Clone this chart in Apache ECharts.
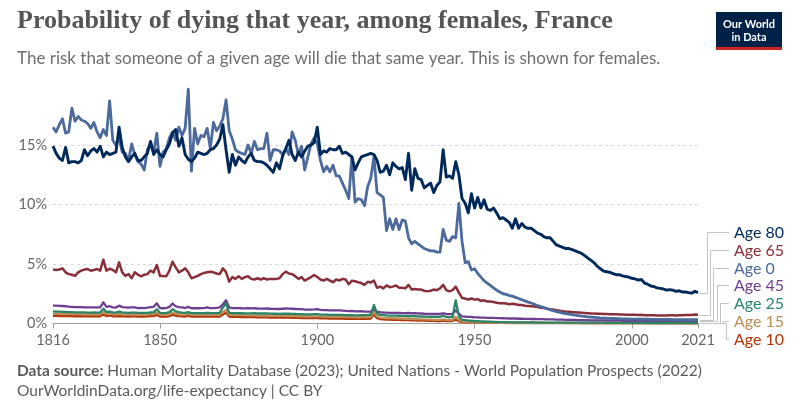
<!DOCTYPE html>
<html><head><meta charset="utf-8">
<script src="https://cdn.jsdelivr.net/npm/echarts@6/dist/echarts.min.js"></script>
<style>html,body{margin:0;padding:0;background:#fff}#c{width:800px;height:418px}</style>
</head><body><div id="c"></div>
<script>
const startYear = 1816;
const endYear = 2021;
const xTickLabels = [1816, 1850, 1900, 1950, 2000, 2021];
const seriesNames = ['Age 80', 'Age 65', 'Age 0', 'Age 45', 'Age 25', 'Age 15', 'Age 10'];
const seriesColors = ['#00295B', '#883039', '#4C6A9C', '#6D3E91', '#2C8465', '#BC8E5A', '#B13507'];

const age80 = [
14.9, 14.3, 13.9, 13.7,
14.8, 13.5, 13.6, 13.6, 13.5, 13.7, 14.6, 14.1, 14.5, 14.7,
14.4, 14.9, 14.0, 14.4, 14.2, 14.3, 14.4, 16.5, 14.8, 14.0,
13.6, 14.0, 14.3, 13.7, 13.7, 14.0, 14.3, 15.3, 14.2, 14.6,
14.2, 14.0, 14.6, 15.1, 16.0, 16.3, 14.9, 15.6, 14.2, 13.8,
13.6, 13.9, 14.4, 14.3, 14.2, 14.3, 14.6, 14.7, 15.0, 15.5,
16.7, 14.6, 12.7, 14.2, 13.3, 14.0, 13.7, 13.5, 14.0, 14.3,
13.7, 13.6, 13.6, 13.5, 13.3, 13.0, 12.7, 13.5, 13.0, 14.1,
14.7, 15.4, 14.2, 13.7, 14.4, 14.0, 14.5, 14.9, 15.0, 15.2,
16.5, 14.2, 14.5, 14.4, 14.7, 14.6, 14.6, 14.9, 14.3, 14.4,
14.2, 14.0, 12.9, 13.5, 14.0, 14.1, 14.2, 14.3, 14.2, 13.7,
12.7, 12.8, 13.3, 12.5, 13.5, 13.2, 13.0, 13.1, 12.1, 14.3,
11.2, 13.0, 12.2, 12.1, 11.4, 11.6, 11.8, 11.0, 11.6, 11.9,
14.6, 12.3, 12.4, 12.2, 13.6, 12.5, 10.5, 10.1, 9.3, 10.9,
9.7, 10.6, 9.7, 10.4, 9.6, 9.5, 9.7, 9.3, 8.8, 8.9,
8.7, 8.5, 8.0, 8.8, 8.0, 8.4, 8.1, 8.0, 8.0, 7.8,
7.6, 7.5, 7.3, 7.2, 7.2, 6.9, 6.6, 6.5, 6.4, 6.3,
6.3, 6.2, 6.1, 6.0, 5.9, 5.7, 5.5, 5.3, 5.1, 4.8,
4.6, 4.4, 4.35, 4.3, 4.2, 4.1, 4.1, 4.0, 3.95, 3.9,
3.8, 3.75, 3.65, 3.7, 3.4, 3.3, 3.15, 3.1, 3.0, 2.95,
2.9, 2.8, 2.85, 2.8, 2.7, 2.75, 2.65, 2.65, 2.6, 2.55,
2.7, 2.6
];

const age65 = [
4.53, 4.5, 4.53, 4.64,
4.3, 4.15, 4.1, 4.0, 4.3, 4.44, 4.53, 4.58, 4.44, 4.5,
4.58, 4.44, 5.36, 4.44, 4.6, 4.5, 4.3, 5.14, 4.3, 4.0,
4.15, 3.8, 4.3, 4.1, 3.97, 4.1, 4.15, 4.44, 4.3, 4.92,
4.0, 4.0, 3.97, 4.44, 5.19, 4.72, 4.3, 4.44, 4.64, 4.3,
3.8, 3.9, 4.0, 4.15, 4.25, 4.3, 4.35, 4.3, 4.2, 4.15,
4.64, 4.3, 3.52, 3.9, 3.75, 3.97, 3.75, 3.9, 3.97, 3.75,
3.7, 3.8, 3.7, 3.8, 3.7, 3.75, 3.75, 3.75, 3.8, 4.15,
4.36, 4.2, 4.15, 3.97, 3.75, 3.9, 3.61, 3.75, 3.9, 4.08,
3.9, 3.7, 3.61, 3.75, 3.61, 3.47, 3.7, 3.61, 3.75, 3.7,
3.3, 3.6, 3.55, 3.47, 3.4, 3.25, 3.5, 3.45, 3.6, 3.0,
3.1, 2.95, 3.2, 3.05, 3.1, 3.2, 3.0, 3.0, 2.95, 3.25,
2.85, 2.9, 2.85, 2.85, 2.75, 2.7, 2.75, 2.85, 2.8, 2.95,
3.25, 2.8, 2.7, 2.8, 3.1, 2.6, 2.15, 2.1, 2.0, 2.1,
2.0, 2.05, 1.9, 1.95, 1.85, 1.85, 1.8, 1.75, 1.7, 1.7,
1.68, 1.62, 1.65, 1.62, 1.55, 1.55, 1.5, 1.48, 1.45, 1.42,
1.38, 1.33, 1.3, 1.25, 1.2, 1.17, 1.12, 1.07, 1.03, 1.0,
0.98, 0.96, 0.95, 0.93, 0.91, 0.89, 0.87, 0.85, 0.83, 0.82,
0.81, 0.8, 0.79, 0.78, 0.78, 0.77, 0.76, 0.75, 0.74, 0.74,
0.73, 0.73, 0.72, 0.74, 0.7, 0.7, 0.69, 0.69, 0.68, 0.68,
0.68, 0.68, 0.69, 0.69, 0.68, 0.7, 0.7, 0.71, 0.71, 0.71,
0.75, 0.73
];

const age0 = [
16.5, 16.1, 16.7, 17.2,
16.0, 16.1, 18.1, 17.0, 17.4, 17.1, 17.0, 16.8, 16.4, 16.9,
16.1, 15.6, 16.3, 15.8, 18.7, 15.4, 15.0, 15.6, 14.4, 14.3,
13.7, 15.1, 14.2, 13.6, 13.4, 12.9, 14.6, 15.1, 14.4, 16.0,
13.2, 14.4, 14.7, 15.6, 16.1, 15.4, 16.5, 15.8, 16.4, 19.7,
12.8, 16.4, 15.1, 15.8, 15.7, 16.4, 14.7, 16.9, 16.2, 16.6,
17.2, 18.8, 16.2, 15.5, 14.6, 14.4, 14.3, 14.2, 15.0, 14.3,
15.3, 14.6, 14.7, 14.7, 16.0, 13.7, 14.6, 14.6, 14.5, 14.2,
14.7, 14.2, 16.1, 15.4, 14.2, 14.9, 12.9, 14.0, 15.1, 15.6,
15.1, 13.7, 12.75, 13.2, 12.75, 13.3, 12.4, 12.4, 11.8, 11.2,
10.5, 14.0, 10.2, 10.5, 10.4, 9.9, 11.5, 12.2, 14.0, 11.0,
10.8, 10.6, 7.8, 8.8, 7.9, 8.8, 7.9, 8.7, 8.6, 7.2,
6.7, 6.9, 6.7, 6.5, 6.3, 6.2, 6.1, 6.1, 6.0, 6.0,
7.9, 7.0, 6.9, 7.3, 7.2, 10.1, 6.9, 5.1, 5.2, 4.5,
4.6, 4.2, 3.9, 3.6, 3.4, 3.2, 3.0, 2.8, 2.65, 2.5,
2.45, 2.35, 2.3, 2.2, 2.1, 2.0, 1.9, 1.8, 1.72, 1.62,
1.5, 1.42, 1.35, 1.25, 1.15, 1.08, 1.0, 0.94, 0.88, 0.83,
0.78, 0.74, 0.7, 0.66, 0.62, 0.59, 0.56, 0.54, 0.52, 0.5,
0.47, 0.46, 0.44, 0.43, 0.42, 0.41, 0.4, 0.39, 0.38, 0.38,
0.37, 0.37, 0.36, 0.36, 0.36, 0.36, 0.35, 0.35, 0.35, 0.34,
0.34, 0.34, 0.34, 0.33, 0.33, 0.33, 0.33, 0.33, 0.33, 0.33,
0.33, 0.33
];

const age45 = [
1.5, 1.5, 1.48, 1.47,
1.45, 1.42, 1.4, 1.38, 1.38, 1.37, 1.36, 1.36, 1.35, 1.36,
1.35, 1.36, 1.78, 1.4, 1.45, 1.36, 1.34, 1.5, 1.38, 1.36,
1.33, 1.36, 1.35, 1.3, 1.32, 1.3, 1.33, 1.38, 1.4, 1.7,
1.3, 1.28, 1.3, 1.4, 1.68, 1.45, 1.38, 1.35, 1.3, 1.4,
1.28, 1.3, 1.28, 1.3, 1.3, 1.35, 1.3, 1.3, 1.32, 1.35,
1.6, 1.95, 1.35, 1.3, 1.3, 1.3, 1.28, 1.27, 1.28, 1.27,
1.28, 1.26, 1.25, 1.25, 1.26, 1.24, 1.23, 1.22, 1.22, 1.24,
1.26, 1.25, 1.24, 1.22, 1.2, 1.2, 1.17, 1.16, 1.17, 1.18,
1.2, 1.14, 1.12, 1.12, 1.11, 1.1, 1.1, 1.1, 1.08, 1.06,
1.04, 1.06, 1.02, 1.02, 1.04, 1.0, 0.99, 1.0, 1.2, 1.0,
0.95, 0.92, 0.92, 0.9, 0.9, 0.9, 0.89, 0.88, 0.87, 0.9,
0.86, 0.86, 0.85, 0.84, 0.82, 0.81, 0.8, 0.8, 0.8, 0.8,
0.85, 0.8, 0.78, 0.8, 1.1, 0.82, 0.6, 0.58, 0.55, 0.55,
0.52, 0.52, 0.5, 0.5, 0.48, 0.47, 0.47, 0.46, 0.45, 0.44,
0.43, 0.42, 0.42, 0.42, 0.4, 0.4, 0.39, 0.39, 0.38, 0.38,
0.37, 0.36, 0.36, 0.35, 0.34, 0.34, 0.33, 0.32, 0.32, 0.31,
0.31, 0.3, 0.3, 0.29, 0.29, 0.28, 0.28, 0.27, 0.27, 0.26,
0.26, 0.26, 0.25, 0.25, 0.25, 0.24, 0.24, 0.23, 0.23, 0.23,
0.22, 0.22, 0.22, 0.22, 0.21, 0.21, 0.21, 0.2, 0.2, 0.2,
0.2, 0.19, 0.19, 0.19, 0.18, 0.18, 0.18, 0.18, 0.17, 0.17,
0.18, 0.18
];

const age25 = [
1.02, 1.0, 1.0, 0.98,
0.97, 0.96, 0.95, 0.94, 0.94, 0.93, 0.93, 0.92, 0.92, 0.93,
0.92, 0.93, 1.25, 0.95, 1.0, 0.93, 0.92, 1.0, 0.93, 0.92,
0.9, 0.92, 0.91, 0.9, 0.9, 0.89, 0.9, 0.94, 0.95, 1.2,
0.9, 0.88, 0.89, 0.95, 1.2, 1.02, 0.95, 0.92, 0.9, 0.95,
0.88, 0.88, 0.87, 0.88, 0.88, 0.9, 0.88, 0.87, 0.88, 0.9,
1.35, 1.7, 0.9, 0.88, 0.87, 0.87, 0.86, 0.85, 0.85, 0.85,
0.86, 0.85, 0.84, 0.84, 0.84, 0.83, 0.82, 0.82, 0.81, 0.82,
0.83, 0.82, 0.81, 0.8, 0.79, 0.79, 0.77, 0.77, 0.77, 0.78,
0.78, 0.75, 0.74, 0.74, 0.73, 0.73, 0.73, 0.72, 0.72, 0.71,
0.7, 0.71, 0.69, 0.69, 0.7, 0.7, 0.7, 0.75, 1.55, 0.85,
0.72, 0.7, 0.68, 0.67, 0.66, 0.66, 0.65, 0.64, 0.63, 0.64,
0.62, 0.61, 0.6, 0.59, 0.58, 0.57, 0.56, 0.55, 0.55, 0.56,
0.65, 0.55, 0.52, 0.55, 1.95, 0.6, 0.3, 0.28, 0.25, 0.23,
0.2, 0.19, 0.18, 0.17, 0.16, 0.15, 0.14, 0.13, 0.12, 0.12,
0.11, 0.11, 0.1, 0.1, 0.1, 0.09, 0.09, 0.09, 0.09, 0.09,
0.08, 0.08, 0.08, 0.08, 0.08, 0.08, 0.08, 0.08, 0.08, 0.07,
0.07, 0.07, 0.07, 0.07, 0.07, 0.07, 0.07, 0.07, 0.07, 0.07,
0.07, 0.07, 0.06, 0.06, 0.06, 0.06, 0.06, 0.05, 0.05, 0.05,
0.05, 0.05, 0.05, 0.05, 0.04, 0.04, 0.04, 0.04, 0.04, 0.04,
0.04, 0.04, 0.04, 0.04, 0.04, 0.04, 0.04, 0.04, 0.04, 0.04,
0.04, 0.04
];

const age15 = [
0.82, 0.82, 0.81, 0.8,
0.8, 0.79, 0.8, 0.78, 0.78, 0.78, 0.77, 0.78, 0.77, 0.78,
0.77, 0.78, 0.95, 0.8, 0.85, 0.78, 0.77, 0.8, 0.77, 0.76,
0.76, 0.77, 0.77, 0.75, 0.75, 0.74, 0.76, 0.78, 0.78, 0.92,
0.74, 0.74, 0.74, 0.78, 0.92, 0.82, 0.78, 0.76, 0.75, 0.8,
0.74, 0.74, 0.73, 0.74, 0.74, 0.75, 0.74, 0.73, 0.73, 0.74,
0.95, 1.15, 0.74, 0.72, 0.71, 0.71, 0.7, 0.69, 0.69, 0.68,
0.69, 0.68, 0.67, 0.67, 0.66, 0.66, 0.65, 0.64, 0.64, 0.64,
0.65, 0.64, 0.63, 0.62, 0.61, 0.61, 0.6, 0.59, 0.59, 0.6,
0.6, 0.58, 0.57, 0.57, 0.56, 0.56, 0.56, 0.55, 0.55, 0.54,
0.53, 0.54, 0.52, 0.52, 0.53, 0.53, 0.52, 0.55, 0.98, 0.6,
0.5, 0.48, 0.46, 0.45, 0.44, 0.43, 0.42, 0.41, 0.4, 0.4,
0.38, 0.37, 0.36, 0.35, 0.34, 0.33, 0.32, 0.31, 0.3, 0.3,
0.35, 0.3, 0.28, 0.3, 0.55, 0.3, 0.16, 0.14, 0.12, 0.11,
0.1, 0.09, 0.09, 0.08, 0.08, 0.07, 0.07, 0.07, 0.06, 0.06,
0.06, 0.06, 0.06, 0.05, 0.05, 0.05, 0.05, 0.05, 0.05, 0.05,
0.05, 0.05, 0.05, 0.05, 0.05, 0.05, 0.05, 0.05, 0.05, 0.05,
0.04, 0.04, 0.04, 0.04, 0.04, 0.04, 0.04, 0.04, 0.04, 0.04,
0.04, 0.04, 0.04, 0.04, 0.04, 0.03, 0.03, 0.03, 0.03, 0.03,
0.03, 0.03, 0.03, 0.03, 0.03, 0.03, 0.03, 0.03, 0.03, 0.03,
0.02, 0.02, 0.02, 0.02, 0.02, 0.02, 0.02, 0.02, 0.02, 0.02,
0.02, 0.02
];

const age10 = [
0.64, 0.64, 0.63, 0.63,
0.62, 0.62, 0.63, 0.61, 0.61, 0.61, 0.6, 0.61, 0.6, 0.61,
0.6, 0.61, 0.75, 0.63, 0.68, 0.61, 0.6, 0.63, 0.6, 0.6,
0.59, 0.6, 0.6, 0.59, 0.59, 0.58, 0.6, 0.62, 0.62, 0.74,
0.58, 0.58, 0.58, 0.62, 0.74, 0.65, 0.62, 0.6, 0.59, 0.64,
0.58, 0.58, 0.57, 0.58, 0.58, 0.59, 0.58, 0.57, 0.57, 0.58,
0.75, 0.9, 0.58, 0.56, 0.55, 0.55, 0.54, 0.54, 0.53, 0.53,
0.53, 0.52, 0.52, 0.51, 0.51, 0.5, 0.5, 0.49, 0.49, 0.49,
0.5, 0.49, 0.48, 0.47, 0.47, 0.46, 0.45, 0.45, 0.45, 0.45,
0.45, 0.44, 0.43, 0.43, 0.42, 0.42, 0.42, 0.41, 0.41, 0.4,
0.39, 0.4, 0.39, 0.39, 0.4, 0.4, 0.39, 0.42, 0.75, 0.45,
0.37, 0.35, 0.33, 0.32, 0.31, 0.3, 0.3, 0.29, 0.28, 0.28,
0.27, 0.26, 0.25, 0.24, 0.24, 0.23, 0.22, 0.22, 0.21, 0.21,
0.25, 0.21, 0.2, 0.22, 0.33, 0.2, 0.11, 0.1, 0.09, 0.08,
0.07, 0.07, 0.06, 0.06, 0.06, 0.05, 0.05, 0.05, 0.05, 0.05,
0.04, 0.04, 0.04, 0.04, 0.04, 0.04, 0.04, 0.04, 0.04, 0.04,
0.04, 0.04, 0.04, 0.03, 0.03, 0.03, 0.03, 0.03, 0.03, 0.03,
0.03, 0.03, 0.03, 0.03, 0.02, 0.02, 0.02, 0.02, 0.02, 0.02,
0.02, 0.02, 0.02, 0.02, 0.02, 0.02, 0.02, 0.02, 0.02, 0.02,
0.01, 0.01, 0.01, 0.01, 0.01, 0.01, 0.01, 0.01, 0.01, 0.01,
0.01, 0.01, 0.01, 0.01, 0.01, 0.01, 0.01, 0.01, 0.01, 0.01,
0.01, 0.01
];

const seriesValues = [age80, age65, age0, age45, age25, age15, age10];
const drawOrder = [6, 5, 3, 4, 1, 2, 0];
const lineWidths = [2.9, 2.5, 2.8, 2.3, 2.3, 2.3, 2.3];

const years = [];
for (let y = startYear; y <= endYear; y++) years.push(y);

const chartEl = document.getElementById('c');
const chart = echarts.init(chartEl, null, { renderer: 'canvas' });

const series = drawOrder.map(i => ({
  name: seriesNames[i],
  type: 'line',
  symbol: 'none',
  silent: true,
  animation: false,
  lineStyle: { color: seriesColors[i], width: lineWidths[i], join: 'round' },
  itemStyle: { color: seriesColors[i] },
  data: seriesValues[i].map((v, k) => [years[k], v])
}));

const baseGraphics = [
  { type: 'text', left: 17, top: 8, style: { text: 'Probability of dying that year, among females, France', font: 'bold 26px "Liberation Serif", serif', fill: '#555555' } },
  { type: 'text', left: 17, top: 50, style: { text: 'The risk that someone of a given age will die that same year. This is shown for females.', font: '17px Lato, sans-serif', fill: '#6e6e6e' } },
  { type: 'group', left: 716, top: 12, children: [
      { type: 'rect', shape: { x: 0, y: 0, width: 66, height: 38 }, style: { fill: '#002147' } },
      { type: 'rect', shape: { x: 0, y: 35, width: 66, height: 3 }, style: { fill: '#ce261e' } },
      { type: 'text', x: 33, y: 12, style: { text: 'Our World', font: 'bold 11px Lato, sans-serif', fill: '#fff', align: 'center', verticalAlign: 'middle' } },
      { type: 'text', x: 33, y: 25, style: { text: 'in Data', font: 'bold 11px Lato, sans-serif', fill: '#fff', align: 'center', verticalAlign: 'middle' } }
  ]},
  { type: 'text', left: 17, top: 363, style: {
      text: '{b|Data source:} Human Mortality Database (2023); United Nations - World Population Prospects (2022)',
      font: '15.5px Lato, sans-serif', fill: '#5b5b5b',
      rich: { b: { fontWeight: 'bold', fontSize: 15.5, fontFamily: 'Lato', fill: '#5b5b5b' } } } },
  { type: 'text', left: 17, top: 383, style: { text: 'OurWorldinData.org/life-expectancy | CC BY', font: '15.5px Lato, sans-serif', fill: '#5b5b5b' } }
];

const option = {
  animation: false,
  grid: { left: 53, right: 102, top: 85.5, bottom: 94.5, containLabel: false },
  xAxis: {
    type: 'value', min: startYear, max: endYear,
    axisLine: { show: true, lineStyle: { color: '#a0a0a0', width: 1 } },
    axisTick: { show: true, length: 5, customValues: xTickLabels, lineStyle: { color: '#a0a0a0' } },
    axisLabel: { customValues: xTickLabels, color: '#666', fontSize: 14.5, fontFamily: 'Lato', margin: 9, hideOverlap: false, formatter: v => String(v) },
    splitLine: { show: false }
  },
  yAxis: {
    type: 'value', min: 0, max: 20, interval: 5,
    axisLine: { show: false }, axisTick: { show: false },
    axisLabel: { color: '#666', fontSize: 14.5, fontFamily: 'Lato', margin: 6, showMaxLabel: false, formatter: v => (v >= 20 ? '' : v + '%') },
    splitLine: { show: true, showMinLine: false, showMaxLine: false, lineStyle: { color: '#dadada', type: [3, 3], width: 1 } }
  },
  series: series,
  graphic: baseGraphics
};
chart.setOption(option);

// end-of-line labels with connector lines
const extra = [];
const lastVals = seriesValues.map(a => a[a.length - 1]);
const ranked = seriesValues.map((a, i) => i).sort((a, b) => lastVals[b] - lastVals[a]);
const zeroY = chart.convertToPixel({ gridIndex: 0 }, [endYear, 0])[1];
const gap = 17.7;
const bottomY = zeroY + 15;
const n = ranked.length;
ranked.forEach((si, rank) => {
  const p = chart.convertToPixel({ gridIndex: 0 }, [endYear, lastVals[si]]);
  const ly = Math.round(bottomY - (n - 1 - rank) * gap) + 0.5;
  const py = Math.round(p[1]) + 0.5;
  const xv = Math.round(p[0] + 9 + rank * 3.2) + 0.5;
  extra.push({ type: 'polyline', silent: true, shape: { points: [[p[0] + 2, py], [xv, py], [xv, ly], [p[0] + 31, ly]] }, style: { stroke: '#c4c4c4', lineWidth: 1, fill: 'none' } });
  extra.push({ type: 'text', silent: true, x: p[0] + 36, y: ly, style: { text: seriesNames[si], font: '16px Lato, sans-serif', fill: seriesColors[si], align: 'left', verticalAlign: 'middle' } });
});
const bad = seriesValues.map((a, i) => a.length !== years.length ? seriesNames[i] + ':' + a.length : null).filter(Boolean);
if (bad.length) extra.push({ type: 'text', left: 300, top: 200, style: { text: 'LEN ' + bad.join(' '), fill: 'red', font: '16px Lato' } });
chart.setOption({ graphic: baseGraphics.concat(extra) });
</script>
</body></html>
